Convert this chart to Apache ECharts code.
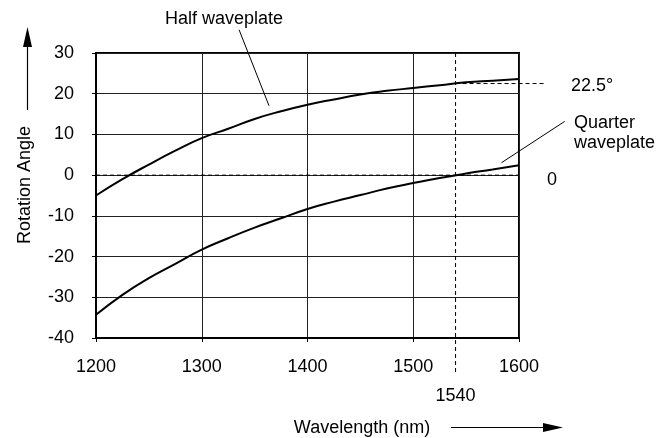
<!DOCTYPE html>
<html><head><meta charset="utf-8">
<script src="https://cdn.jsdelivr.net/npm/echarts@6/dist/echarts.min.js"></script>
<style>html,body{margin:0;padding:0;background:#fff}#c{width:671px;height:438px}</style>
</head><body><div id="c"></div>
<script>
const wavelengths = [1200,1225,1250,1275,1300,1325,1350,1375,1400,1425,1450,1475,1500,1525,1550,1575,1600];
const halfWave =    [-5.0,-1.0,2.6,6.0,9.1,11.4,13.8,15.7,17.3,18.6,19.8,20.7,21.4,22.1,22.8,23.2,23.6];
const quarterWave = [-34.3,-29.4,-25.3,-21.8,-18.3,-15.5,-12.9,-10.6,-8.3,-6.5,-4.9,-3.3,-1.95,-0.7,0.4,1.4,2.45];
const xTicks = [1200,1300,1400,1500,1600];
const yTicks = [-40,-30,-20,-10,0,10,20,30];
const markWavelength = 1540;
const markAngle = 22.5;
const halfLeader = [[1335.3,35.7],[1363.6,17.05]];
const quarterLeader = [[1643.2,13.2],[1583.4,3.05]];
const angleGuide = [[1540,22.5],[1625,22.5]];
const wlGuide = [[1540,30],[1540,-48.5]];
const zeroGuide = [[1200,0],[1600,0]];

const FONT = 'Liberation Sans, Arial, sans-serif';
const FS = 18;
const chart = echarts.init(document.getElementById('c'), null, {renderer:'canvas'});
const pair = (xs, ys) => xs.map((x,i)=>[x, ys[i]]);
chart.setOption({
  animation:false,
  grid:{left:96, top:53, width:423, height:285, show:true, borderColor:'#000', borderWidth:2, backgroundColor:'transparent'},
  xAxis:{type:'value', min:1200, max:1600, interval:100,
    axisLine:{show:true, onZero:false, lineStyle:{color:'#000', width:2}},
    axisTick:{show:true, length:4, lineStyle:{color:'#000'}},
    axisLabel:{color:'#000', fontFamily:FONT, fontSize:FS, margin:20,
      formatter:v=> xTicks.includes(v) ? String(v) : ''},
    splitLine:{show:true, lineStyle:{color:'#222', width:1}}},
  yAxis:{type:'value', min:-40, max:30, interval:10,
    axisLine:{show:true, onZero:false, lineStyle:{color:'#000', width:2}},
    axisTick:{show:true, length:4, lineStyle:{color:'#000'}},
    axisLabel:{color:'#000', fontFamily:FONT, fontSize:FS, margin:22,
      formatter:v=> yTicks.includes(v) ? String(v) : ''},
    splitLine:{show:true, lineStyle:{color:'#222', width:1}}},
  series:[
    {type:'line', name:'Half waveplate', data:pair(wavelengths, halfWave), smooth:true, symbol:'none',
      lineStyle:{color:'#000', width:2}, z:5},
    {type:'line', name:'Quarter waveplate', data:pair(wavelengths, quarterWave), smooth:true, symbol:'none',
      lineStyle:{color:'#000', width:2}, z:5}
  ]
});
const px = (p)=>chart.convertToPixel({gridIndex:0},p);
const seg = (pts, dashed)=>{
  const a = px(pts[0]), b = px(pts[1]);
  return {type:'line', z:4, shape:{x1:a[0],y1:a[1],x2:b[0],y2:b[1]},
    style:{stroke:'#000', lineWidth:1, lineDash: dashed ? [4,3] : null}};
};
const p1540 = px([markWavelength, -40]);
const p225 = px([1600, markAngle]);
const p0 = px([1600, 0]);
const txt = (x,y,text,align)=>({type:'text', x, y, z:6,
  style:{text, fill:'#000', font:FS+'px '+FONT, textAlign:align||'left', textVerticalAlign:'middle'}});
chart.setOption({graphic:[
  seg(zeroGuide, true),
  seg(angleGuide, true),
  seg(wlGuide, true),
  seg(halfLeader, false),
  seg(quarterLeader, false),
  txt(224, 19, 'Half waveplate', 'center'),
  txt(571, p225[1]+2, markAngle+'°', 'left'),
  txt(574, 123, 'Quarter', 'left'),
  txt(574, 143, 'waveplate', 'left'),
  txt(p0[0]+28, p0[1]+5, '0', 'left'),
  txt(p1540[0], 396, String(markWavelength), 'center'),
  txt(362, 428, 'Wavelength (nm)', 'center'),
  {type:'text', x:25, y:185, rotation:Math.PI/2, z:6,
    style:{text:'Rotation Angle', fill:'#000', font:FS+'px '+FONT, textAlign:'center', textVerticalAlign:'middle'}},
  {type:'line', shape:{x1:27.5,y1:110,x2:27.5,y2:46}, style:{stroke:'#000', lineWidth:1.2}},
  {type:'polygon', shape:{points:[[27.5,27],[23,47],[32,47]]}, style:{fill:'#000'}},
  {type:'line', shape:{x1:451,y1:427.5,x2:544,y2:427.5}, style:{stroke:'#000', lineWidth:1.2}},
  {type:'polygon', shape:{points:[[563,427.5],[543,423],[543,432]]}, style:{fill:'#000'}}
]});
</script></body></html>
